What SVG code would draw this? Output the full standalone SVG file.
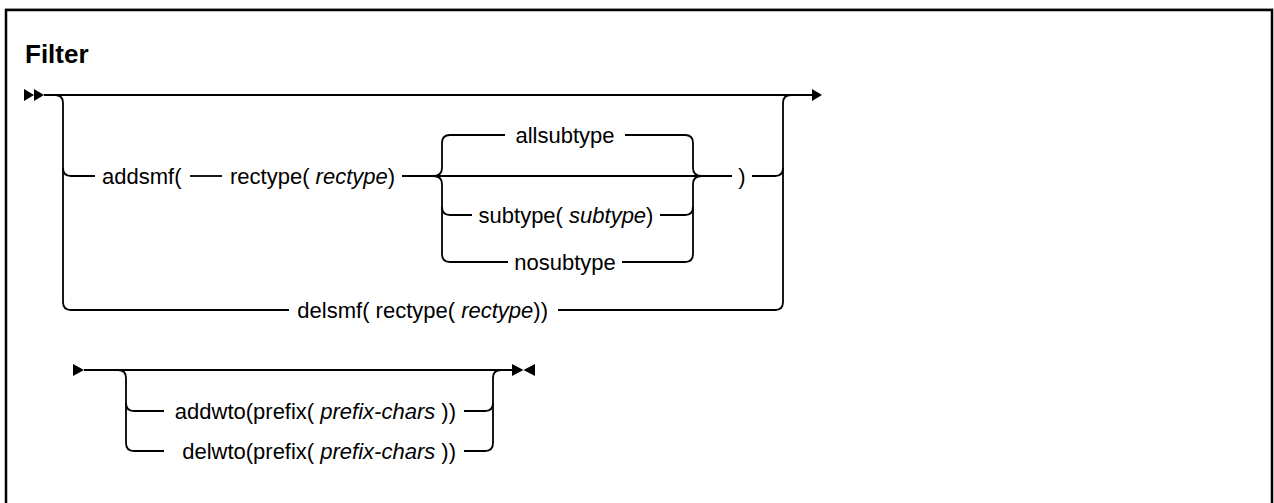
<svg xmlns="http://www.w3.org/2000/svg" width="1274" height="503" viewBox="0 0 1274 503">
  <style>
    .frame { fill: #ffffff; stroke: #000000; stroke-width: 2.5; }
    .rule { stroke: #c8c8c8; stroke-width: 1; }
    .track { fill: none; stroke: #000000; stroke-width: 1.8; stroke-linecap: butt; }
    .head { fill: #000000; stroke: none; }
    .title { font-family: "Liberation Sans", Arial, sans-serif; font-size: 26px; font-weight: bold; fill: #000000; }
    .lbl { font-family: "Liberation Sans", Arial, sans-serif; font-size: 22px; fill: #000000; }
    .var { font-style: italic; }
  </style>

  <!-- page frame -->
  <line class="rule" x1="5" y1="8.5" x2="1274" y2="8.5"/>
  <rect class="frame" x="6" y="10" width="1266" height="500"/>

  <text class="title" x="25" y="63">Filter</text>

  <!-- connectors: tracks, forks and joins -->
  <g id="connectors">
    <!-- first syntax block -->
    <polygon class="head" points="24,89 34,95 24,101"/>
    <polygon class="head" points="34,89 44,95 34,101"/>
    <path class="track" d="M44,95 H812"/>
    <polygon class="head" points="812,89 822,95 812,101"/>

    <!-- left fork -->
    <path class="track" d="M55,95 Q63,95 63,103 V302 Q63,310 71,310 H289"/>
    <path class="track" d="M63,168 Q63,176 71,176 H95"/>
    <!-- right join -->
    <path class="track" d="M558,310 H775 Q783,310 783,302 V103 Q783,95 791,95"/>
    <path class="track" d="M752,176 H775 Q783,176 783,168"/>

    <!-- addsmf row -->
    <path class="track" d="M190,176 H222"/>
    <path class="track" d="M402,176 H732"/>

    <!-- subtype choice: left brace -->
    <path class="track" d="M433,176 Q442,176 442,168 V143 Q442,135 450,135 H505"/>
    <path class="track" d="M433,176 Q442,176 442,184 V254 Q442,262 450,262 H508"/>
    <path class="track" d="M442,207 Q442,215 450,215 H472"/>
    <!-- subtype choice: right brace -->
    <path class="track" d="M625,135 H685 Q693,135 693,143 V168 Q693,176 702,176"/>
    <path class="track" d="M702,176 Q693,176 693,184 V254 Q693,262 685,262 H622"/>
    <path class="track" d="M660,215 H685 Q693,215 693,207"/>

    <!-- second syntax block -->
    <polygon class="head" points="73,364 84,370 73,376"/>
    <path class="track" d="M84,370 H513"/>
    <polygon class="head" points="512,364 523.5,370 512,376"/>
    <polygon class="head" points="535,364 523.5,370 535,376"/>
    <path class="track" d="M118,370 Q126,370 126,378 V443 Q126,451 134,451 H164"/>
    <path class="track" d="M126,403 Q126,411 134,411 H164"/>
    <path class="track" d="M464,411 H485 Q493,411 493,403 V378 Q493,370 501,370"/>
    <path class="track" d="M464,451 H485 Q493,451 493,443 V403"/>
  </g>

  <!-- terms -->
  <g id="addsmf">
    <text class="lbl" x="102" y="183.5">addsmf(</text>
  </g>
  <g id="rectype">
    <text class="lbl" x="230" y="183.5">rectype( <tspan class="var">rectype</tspan>)</text>
  </g>
  <g id="allsubtype">
    <text class="lbl" x="565" y="142.5" text-anchor="middle">allsubtype</text>
  </g>
  <g id="subtype">
    <text class="lbl" x="566" y="222.5" text-anchor="middle">subtype( <tspan class="var">subtype</tspan>)</text>
  </g>
  <g id="nosubtype">
    <text class="lbl" x="565" y="269.5" text-anchor="middle">nosubtype</text>
  </g>
  <g id="close-paren">
    <text class="lbl" x="742" y="183.5" text-anchor="middle">)</text>
  </g>
  <g id="delsmf">
    <text class="lbl" x="548" y="317.5" text-anchor="end">delsmf( rectype( <tspan class="var">rectype</tspan>))</text>
  </g>
  <g id="addwto">
    <text class="lbl" x="456" y="418.5" text-anchor="end">addwto(prefix( <tspan class="var">prefix-chars</tspan> ))</text>
  </g>
  <g id="delwto">
    <text class="lbl" x="456" y="458.5" text-anchor="end">delwto(prefix( <tspan class="var">prefix-chars</tspan> ))</text>
  </g>
</svg>
